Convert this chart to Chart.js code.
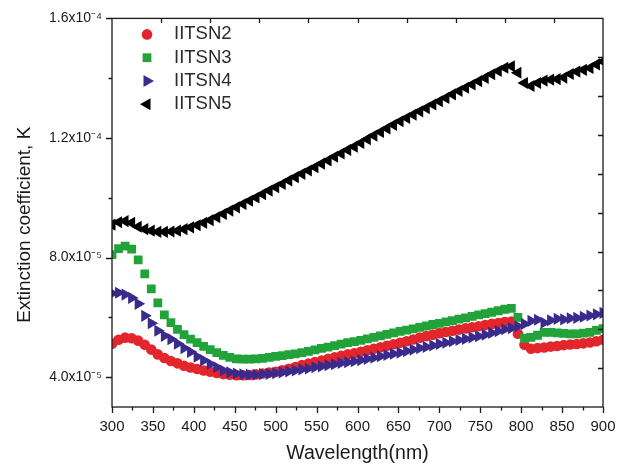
<!DOCTYPE html>
<html>
<head>
<meta charset="utf-8">
<script src="https://cdn.jsdelivr.net/npm/chart.js@4.4.1/dist/chart.umd.min.js"></script>
<style>
  html, body { margin: 0; padding: 0; background: #fff; }
  #wrap { width: 628px; height: 470px; }
</style>
</head>
<body>
<div id="wrap"><canvas id="kChart" width="628" height="470"></canvas></div>
<script>
// wavelength of each reading (nm)
const wavelength = [
  300, 308, 316, 324, 332, 340, 348, 356, 364, 372,
  380, 388, 396, 404, 412, 420, 428, 436, 444, 452,
  460, 468, 476, 484, 492, 500, 508, 516, 524, 532,
  540, 548, 556, 564, 572, 580, 588, 596, 604, 612,
  620, 628, 636, 644, 652, 660, 668, 676, 684, 692,
  700, 708, 716, 724, 732, 740, 748, 756, 764, 772,
  780, 788, 796, 804, 812, 820, 828, 836, 844, 852,
  860, 868, 876, 884, 892, 900
];

// extinction coefficient K, in units of 1e-5
const kIITSN2 = [
  5.12, 5.25, 5.32, 5.30, 5.22, 5.08, 4.92, 4.76, 4.64, 4.54,
  4.46, 4.38, 4.32, 4.27, 4.22, 4.18, 4.14, 4.10, 4.08, 4.06,
  4.06, 4.07, 4.09, 4.12, 4.15, 4.18, 4.23, 4.28, 4.34, 4.40,
  4.45, 4.50, 4.55, 4.61, 4.66, 4.71, 4.76, 4.80, 4.85, 4.90,
  4.95, 5.00, 5.05, 5.10, 5.15, 5.20, 5.26, 5.32, 5.37, 5.42,
  5.47, 5.51, 5.55, 5.59, 5.63, 5.67, 5.70, 5.74, 5.78, 5.81,
  5.84, 5.86, 5.45, 5.08, 4.95, 4.97, 4.99, 5.02, 5.04, 5.07,
  5.09, 5.11, 5.13, 5.16, 5.20, 5.25
];
const kIITSN3 = [
  8.10, 8.30, 8.38, 8.28, 7.92, 7.45, 6.95, 6.48, 6.08, 5.82,
  5.60, 5.42, 5.27, 5.15, 5.03, 4.92, 4.82, 4.73, 4.66, 4.61,
  4.60, 4.60, 4.61, 4.63, 4.66, 4.69, 4.72, 4.75, 4.78, 4.82,
  4.86, 4.91, 4.96, 5.00, 5.05, 5.10, 5.15, 5.19, 5.23, 5.28,
  5.33, 5.38, 5.43, 5.48, 5.53, 5.57, 5.61, 5.66, 5.71, 5.76,
  5.80, 5.85, 5.89, 5.94, 5.98, 6.03, 6.08, 6.12, 6.17, 6.22,
  6.27, 6.30, 6.00, 5.30, 5.33, 5.40, 5.50, 5.50, 5.48, 5.46,
  5.45, 5.45, 5.47, 5.50, 5.56, 5.62
];
const kIITSN4 = [
  6.80, 6.82, 6.76, 6.65, 6.45, 6.05, 5.80, 5.55, 5.38, 5.27,
  5.12, 4.97, 4.84, 4.68, 4.56, 4.44, 4.33, 4.22, 4.16, 4.12,
  4.09, 4.08, 4.08, 4.10, 4.11, 4.13, 4.16, 4.19, 4.22, 4.26,
  4.29, 4.33, 4.36, 4.40, 4.43, 4.47, 4.50, 4.53, 4.57, 4.61,
  4.65, 4.70, 4.74, 4.78, 4.82, 4.87, 4.92, 4.97, 5.01, 5.06,
  5.11, 5.15, 5.20, 5.24, 5.28, 5.33, 5.37, 5.42, 5.48, 5.54,
  5.60, 5.64, 5.70, 5.78, 5.88, 5.92, 5.82, 5.90, 5.95, 5.93,
  5.97, 5.98, 6.02, 6.06, 6.10, 6.15
];
const kIITSN5 = [
  9.10, 9.18, 9.22, 9.16, 9.03, 8.95, 8.90, 8.86, 8.86, 8.87,
  8.90, 8.95, 9.01, 9.08, 9.16, 9.25, 9.35, 9.46, 9.57, 9.68,
  9.79, 9.90, 10.01, 10.12, 10.24, 10.35, 10.46, 10.58, 10.69, 10.80,
  10.91, 11.02, 11.14, 11.25, 11.37, 11.48, 11.60, 11.71, 11.83, 11.96,
  12.08, 12.20, 12.32, 12.44, 12.56, 12.67, 12.78, 12.89, 13.00, 13.12,
  13.23, 13.34, 13.46, 13.57, 13.68, 13.79, 13.90, 14.01, 14.13, 14.24,
  14.35, 14.40, 14.18, 13.84, 13.74, 13.84, 13.92, 13.95, 13.97, 14.02,
  14.14, 14.22, 14.28, 14.34, 14.46, 14.56
];

const seriesNames = ['IITSN2', 'IITSN3', 'IITSN4', 'IITSN5'];

// bottom axis ticks, labels on the majors
const xTickValues = [300, 325, 350, 375, 400, 425, 450, 475, 500, 525, 550, 575, 600,
  625, 650, 675, 700, 725, 750, 775, 800, 825, 850, 875, 900];
const xTickLabels = ['300', '', '350', '', '400', '', '450', '', '500', '', '550', '', '600',
  '', '650', '', '700', '', '750', '', '800', '', '850', '', '900'];
// left axis ticks
const yTickValues = [4e-5, 6e-5, 8e-5, 10e-5, 12e-5, 14e-5, 16e-5];
const yTickLabels = ['4.0x10\u207B\u2075', '', '8.0x10\u207B\u2075', '', '1.2x10\u207B\u2074', '', '1.6x10\u207B\u2074'];
// mirror axes (top / right) ticks
const topTickValues = [360, 420, 480, 540, 600, 660, 720, 780, 840];
const rightTickValues = [4.3e-5, 5.6e-5, 6.9e-5, 8.2e-5, 9.5e-5, 10.8e-5, 12.1e-5, 13.4e-5, 14.7e-5];

const yTitle = 'Extinction coefficient, K';
const FONT = '"Liberation Sans", Arial, Helvetica, sans-serif';

function toPoints(arr) {
  return wavelength.map((w, i) => ({ x: w, y: arr[i] * 1e-5 }));
}

const frameAndTicks = {
  id: 'frameAndTicks',
  afterDatasetsDraw(chart) {
    const { ctx, chartArea: a, scales: { x, y } } = chart;
    ctx.save();
    ctx.strokeStyle = '#1a1a1a';
    ctx.lineWidth = 1.3;
    ctx.strokeRect(a.left, a.top, a.right - a.left, a.bottom - a.top);
    ctx.beginPath();
    xTickValues.forEach((v, i) => {
      const px = Math.round(x.getPixelForValue(v)) + 0.5;
      const len = xTickLabels[i] ? 6 : 3.5;
      ctx.moveTo(px, a.bottom);
      ctx.lineTo(px, a.bottom + len);
    });
    yTickValues.forEach((v, i) => {
      const py = Math.round(y.getPixelForValue(v)) + 0.5;
      const len = yTickLabels[i] ? 6 : 3.5;
      ctx.moveTo(a.left, py);
      ctx.lineTo(a.left - len, py);
    });
    topTickValues.forEach(v => {
      const px = Math.round(x.getPixelForValue(v)) + 0.5;
      ctx.moveTo(px, a.top);
      ctx.lineTo(px, a.top + 4.5);
    });
    rightTickValues.forEach(v => {
      const py = Math.round(y.getPixelForValue(v)) + 0.5;
      ctx.moveTo(a.right, py);
      ctx.lineTo(a.right - 5, py);
    });
    ctx.stroke();

    // y axis title, sits a little below the middle of the axis
    ctx.fillStyle = '#1a1a1a';
    ctx.font = '19px ' + FONT;
    ctx.textAlign = 'center';
    ctx.textBaseline = 'middle';
    ctx.translate(25, (a.top + a.bottom) / 2 + 12);
    ctx.rotate(-Math.PI / 2);
    ctx.fillText(yTitle, 0, 0);
    ctx.restore();
  }
};

// legend sits inside the plot, top left
const insideLegend = {
  id: 'insideLegend',
  afterDatasetsDraw(chart) {
    const { ctx, chartArea: a } = chart;
    ctx.save();
    chart.data.datasets.forEach((ds, i) => {
      const cy = a.top + 16 + i * 23.3;
      ctx.fillStyle = ds.backgroundColor;
      Chart.helpers.drawPoint(ctx, {
        pointStyle: ds.pointStyle,
        rotation: ds.pointRotation || 0,
        radius: ds.pointRadius,
        borderWidth: 0
      }, a.left + 35, cy);
      ctx.fillStyle = '#2b2b2b';
      ctx.font = '18.5px ' + FONT;
      ctx.textBaseline = 'middle';
      ctx.textAlign = 'left';
      ctx.fillText(ds.label, a.left + 62, cy);
    });
    ctx.restore();
  }
};

const datasets = [
  { label: seriesNames[0], data: toPoints(kIITSN2), pointStyle: 'circle', pointRadius: 5.3,
    backgroundColor: '#e3262b', order: 4 },
  { label: seriesNames[1], data: toPoints(kIITSN3), pointStyle: 'rect', pointRadius: 6.2,
    backgroundColor: '#22a33a', order: 3 },
  { label: seriesNames[2], data: toPoints(kIITSN4), pointStyle: 'triangle', pointRotation: 90, pointRadius: 7,
    backgroundColor: '#3a2a8c', order: 2 },
  { label: seriesNames[3], data: toPoints(kIITSN5), pointStyle: 'triangle', pointRotation: -90, pointRadius: 7,
    backgroundColor: '#000000', order: 1 }
];
datasets.forEach(ds => {
  ds.pointBorderWidth = 0;
  ds.borderWidth = 0;
  ds.pointBackgroundColor = ds.backgroundColor;
  ds.showLine = false;
});

const ctx = document.getElementById('kChart').getContext('2d');
new Chart(ctx, {
  type: 'scatter',
  data: { datasets: datasets },
  options: {
    responsive: false,
    animation: false,
    devicePixelRatio: 1,
    events: [],
    layout: { padding: { top: 13, right: 25, left: 0, bottom: 0 } },
    plugins: {
      legend: { display: false },
      tooltip: { enabled: false }
    },
    scales: {
      x: {
        type: 'linear',
        min: 300,
        max: 900,
        afterFit: s => { s.height = 63; },
        afterBuildTicks: s => { s.ticks = xTickValues.map(v => ({ value: v })); },
        grid: { display: false, drawTicks: false },
        border: { display: false },
        ticks: {
          autoSkip: false,
          maxRotation: 0,
          padding: 11,
          color: '#1a1a1a',
          font: { family: FONT, size: 15 },
          callback: (v, i) => xTickLabels[i]
        },
        title: {
          display: true,
          text: 'Wavelength(nm)',
          color: '#1a1a1a',
          font: { family: FONT, size: 19.5 },
          padding: { top: 0, bottom: 5 }
        }
      },
      y: {
        type: 'linear',
        min: 3e-5,
        max: 1.6e-4,
        afterFit: s => { s.width = 112; },
        afterBuildTicks: s => { s.ticks = yTickValues.map(v => ({ value: v })); },
        grid: { display: false, drawTicks: false },
        border: { display: false },
        ticks: {
          autoSkip: false,
          padding: 10,
          color: '#1a1a1a',
          font: { family: FONT, size: 14 },
          callback: (v, i) => yTickLabels[i]
        }
      }
    }
  },
  plugins: [frameAndTicks, insideLegend]
});
</script>
</body>
</html>
